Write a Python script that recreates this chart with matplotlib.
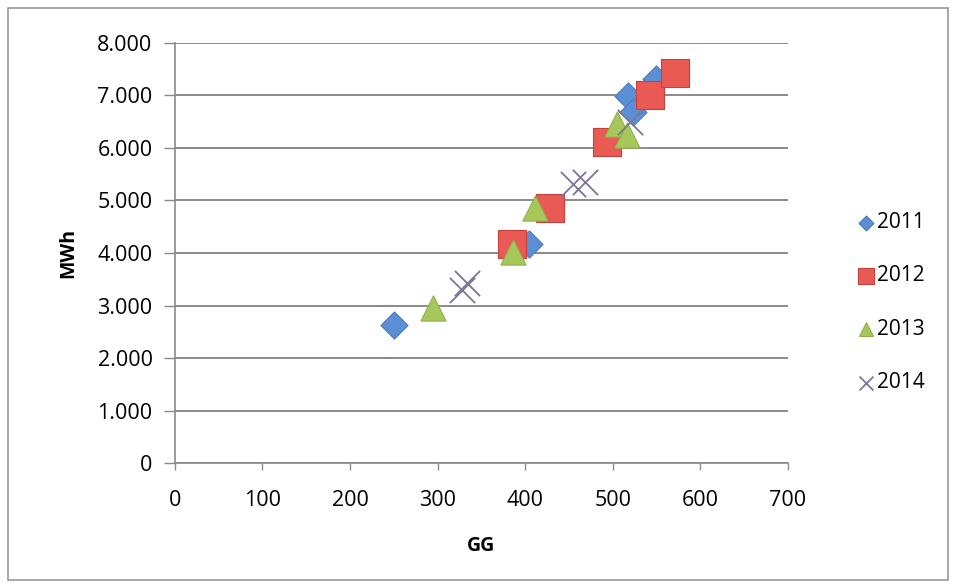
import matplotlib
matplotlib.use("Agg")
import matplotlib.pyplot as plt
from matplotlib.ticker import FuncFormatter
from matplotlib.patches import Rectangle

# values (GG, MWh)
gg_2011 = [250, 405, 517, 523, 550]
mwh_2011 = [2630, 4180, 6980, 6680, 7320]
gg_2012 = [385, 428, 493, 543, 571]
mwh_2012 = [4170, 4850, 6110, 7010, 7430]
gg_2013 = [295, 386, 411, 505, 516]
mwh_2013 = [2960, 4020, 4850, 6450, 6250]
gg_2014 = [328, 334, 455, 468, 520]
mwh_2014 = [3300, 3420, 5320, 5350, 6500]

x_ticks = [0, 100, 200, 300, 400, 500, 600, 700]
y_ticks = [0, 1000, 2000, 3000, 4000, 5000, 6000, 7000, 8000]

plt.rcParams['font.family'] = ['Open Sans', 'DejaVu Sans']

fig = plt.figure(figsize=(9.55, 5.87), dpi=100)
fig.patch.set_facecolor('white')
fig.patches.append(Rectangle((0.008, 0.012), 0.985, 0.975, transform=fig.transFigure,
                             fill=False, edgecolor='#9a9a9a', linewidth=1.2))
ax = fig.add_axes([0.183, 0.211, 0.642, 0.716])

ax.scatter(gg_2011, mwh_2011, marker='D', s=190, color='#5a8fd6', edgecolor='#4a7cc0',
           linewidth=0.8, label='2011', zorder=3)
ax.scatter(gg_2012, mwh_2012, marker='s', s=400, color='#ea5a55', edgecolor='#c8403c',
           linewidth=0.8, label='2012', zorder=3)
ax.scatter(gg_2013, mwh_2013, marker='^', s=330, color='#a6c85a', edgecolor='#8fb04a',
           linewidth=0.8, label='2013', zorder=4)
ax.scatter(gg_2014, mwh_2014, marker='x', s=330, color='#7d7598', linewidth=1.3,
           label='2014', zorder=5)

ax.set_xlim(0, 700)
ax.set_ylim(0, 8000)
ax.set_xticks(x_ticks)
ax.set_yticks(y_ticks)
ax.yaxis.set_major_formatter(FuncFormatter(lambda v, p: f"{int(v):,}".replace(',', '.')))
ax.grid(axis='y', color='#8a8a8a', linewidth=1.4)
ax.set_axisbelow(True)
for side in ['top', 'right']:
    ax.spines[side].set_visible(False)
for side in ['left', 'bottom']:
    ax.spines[side].set_color('#8a8a8a')
    ax.spines[side].set_linewidth(1.2)
ax.tick_params(axis='both', colors='#8a8a8a', labelcolor='black', labelsize=15.5,
               width=1.0)
ax.tick_params(axis='y', length=8, pad=8)
ax.tick_params(axis='x', length=5, pad=14)
ax.set_xlabel('GG', fontsize=14, fontweight='bold', labelpad=18)
ax.set_ylabel('MWh', fontsize=14, fontweight='bold', labelpad=14)

leg = ax.legend(loc='center left', bbox_to_anchor=(1.111, 0.382), frameon=False,
                fontsize=15, labelspacing=1.55, handletextpad=0.0, markerscale=0.55,
                handlelength=1.0, borderpad=0, borderaxespad=0)

fig.savefig('out.png', dpi=100)
